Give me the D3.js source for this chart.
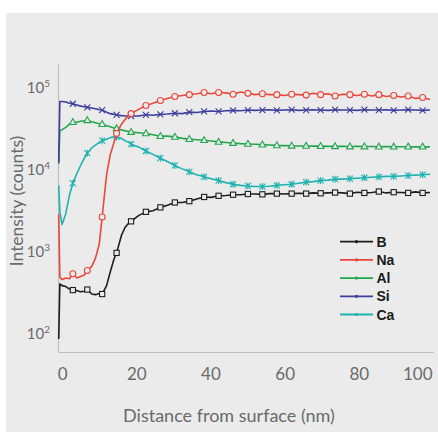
<!DOCTYPE html>
<html><head><meta charset="utf-8">
<script src="https://cdn.jsdelivr.net/npm/d3@7"></script>
<style>body{margin:0;background:#fff}</style>
</head><body>
<svg id="c" width="438" height="433"></svg>
<script>
// ---- data ----
const depth = [-0.9, -0.6, 0, 1, 2, 2.9, 4, 5, 6, 6.8, 8, 9, 10, 10.8, 12, 13, 14, 14.7, 16, 17, 18, 18.6,
  20.6, 22.6, 24.5, 26.5, 28.4, 30.4, 32.4, 34.3, 36.3, 38.3, 40.2, 42.2, 44.2, 46.1, 48.1, 50.1, 52.0, 54.0,
  56.0, 57.9, 59.9, 61.9, 63.8, 65.8, 67.7, 69.7, 71.7, 73.6, 75.6, 77.6, 79.5, 81.5, 83.5, 85.4, 87.4, 89.4,
  91.3, 93.3, 95.3, 97.2, 99.2];
const markerDepths = [2.9, 6.8, 10.8, 14.7, 18.6, 22.6, 26.5, 30.4, 34.3, 38.3, 42.2, 46.1, 50.1, 54.0, 57.9,
  61.9, 65.8, 69.7, 73.6, 77.6, 81.5, 85.4, 89.4, 93.3, 97.2];
const seriesNames = ["B", "Na", "Al", "Si", "Ca"];
const valuesB = [85, 400, 380, 370, 345, 335, 330, 320, 325, 340, 300, 295, 305, 300, 380, 560, 800, 950, 1550, 1950, 2200, 2300,
  2700, 3000, 3100, 3400, 3600, 3900, 3900, 4050, 4300, 4550, 4500, 4700, 4750, 4850, 4850, 4950, 4950, 4900,
  5000, 5000, 4950, 5000, 5050, 5000, 5100, 5050, 5100, 5150, 5100, 5000, 5200, 5100, 5150, 5300, 5100, 5200,
  5150, 5100, 5250, 5100, 5150];
const valuesNa = [2800, 480, 450, 470, 460, 530, 470, 490, 510, 580, 650, 820, 1200, 2600, 8500, 15000, 21000, 27000, 35000, 40000, 45000, 47000,
  53000, 59000, 63000, 68000, 72000, 76000, 78000, 80000, 82000, 85000, 82000, 85000, 84000, 81000, 86000, 83000, 80000, 82000,
  80000, 80000, 78000, 81000, 80000, 79000, 83000, 80000, 82000, 77000, 81000, 80000, 78000, 81000, 77000, 80000, 76000, 78000,
  75000, 77000, 72000, 74000, 70000];
const valuesAl = [11500, 29500, 30000, 32000, 35000, 37000, 37000, 38000, 38500, 39000, 37500, 36500, 35500, 35000, 33500, 32500, 31500, 31000, 30000, 29000, 28500, 28000,
  27500, 27000, 26000, 25000, 25000, 24500, 23500, 23000, 22600, 22300, 21800, 21300, 20900, 20600, 20300, 20100, 19900, 19700,
  19500, 19300, 19200, 19100, 19000, 19000, 18900, 18900, 18800, 18800, 18800, 18700, 18800, 18700, 18700, 18600, 18700, 18600,
  18600, 18600, 18500, 18600, 18500];
const valuesSi = [12000, 66000, 66000, 65000, 63000, 62000, 60000, 58000, 57000, 56000, 55000, 54000, 52500, 52000, 49000, 47000, 46000, 45500, 44500, 44000, 44000, 44000,
  44000, 45500, 45000, 46000, 46500, 47500, 47000, 49000, 48500, 50000, 50500, 50000, 51000, 51500, 51000, 52000, 51500, 52000,
  52500, 51500, 52000, 52500, 51500, 52000, 52500, 52000, 51500, 52500, 52000, 52000, 51500, 52500, 52000, 52000, 52500, 51500,
  52000, 52500, 52000, 51500, 52000];
const valuesCa = [6300, 3000, 2100, 2850, 4800, 6700, 8800, 11000, 13500, 15500, 18000, 19500, 21000, 22000, 23000, 24000, 24500, 24500, 23500, 22000, 21000, 20000,
  18500, 16500, 15000, 13500, 12300, 11000, 10000, 9200, 8500, 8000, 7600, 7200, 6800, 6500, 6300, 6200, 6100, 6100,
  6150, 6300, 6400, 6500, 6700, 6900, 7000, 7200, 7300, 7500, 7500, 7600, 7700, 7800, 7900, 8000, 8100, 8100,
  8200, 8300, 8400, 8500, 8600];
const xTicks = [0, 20, 40, 60, 80, 100];
const yTicks = [100, 1000, 10000, 100000];
const xLabel = "Distance from surface (nm)";
const yLabel = "Intensity (counts)";

// ---- style ----
const colors = {B: "#1e1e1e", Na: "#e8473a", Al: "#22a64c", Si: "#3c3f9c", Ca: "#1fb2b0"};
const markerType = {B: "square", Na: "circle", Al: "triangle", Si: "cross", Ca: "star"};
const values = {B: valuesB, Na: valuesNa, Al: valuesAl, Si: valuesSi, Ca: valuesCa};
const bg = "#ebebec";
const textCol = "#6a6a6a";

const svg = d3.select("#c");
svg.append("rect").attr("x", 6).attr("y", 13).attr("width", 432).attr("height", 419).attr("fill", bg);

const x = d3.scaleLinear().domain([-1.1, 100]).range([58, 433]);
const y = d3.scaleLog().domain([Math.pow(10, 1.772), Math.pow(10, 5.276)]).range([352, 64]);

// axes
const gx = svg.append("g").attr("transform", "translate(0,352)")
  .call(d3.axisBottom(x).tickValues(xTicks).tickSize(0).tickPadding(16).tickFormat(d3.format("d")));
gx.select(".domain").attr("stroke", "#bdbdbd").attr("stroke-width", 1.2);
gx.selectAll("text").attr("font-family", "Lato, sans-serif").attr("font-size", 17).attr("fill", textCol);
gx.selectAll(".tick").filter(d => d === 100).select("text").attr("text-anchor", "end").attr("x", -1);

const gy = svg.append("g").attr("transform", "translate(58,0)")
  .call(d3.axisLeft(y).tickValues(yTicks).tickSize(0).tickPadding(8).tickFormat(() => "10"));
gy.select(".domain").attr("stroke", "#bdbdbd").attr("stroke-width", 1.2);
gy.selectAll("text").attr("font-family", "Lato, sans-serif").attr("font-size", 15).attr("fill", textCol)
  .attr("dy", "0.36em")
  .each(function(d) {
    d3.select(this).append("tspan").attr("dy", -6).attr("font-size", 10).text(Math.round(Math.log10(d)));
  });

// titles
svg.append("text").attr("x", 229).attr("y", 422).attr("text-anchor", "middle")
  .attr("font-family", "Lato, sans-serif").attr("font-size", 18).attr("fill", textCol).text(xLabel);
svg.append("text").attr("transform", "translate(23,201) rotate(-90)").attr("text-anchor", "middle")
  .attr("font-family", "Lato, sans-serif").attr("font-size", 17.5).attr("fill", textCol).text(yLabel);

// lines
const line = d3.line().x(d => x(d[0])).y(d => y(d[1]));
const isMarker = dd => markerDepths.some(m => Math.abs(m - dd) < 0.01);

function drawMarker(g, type, cx, cy, col) {
  if (type === "square") {
    g.append("rect").attr("x", cx - 2.6).attr("y", cy - 2.6).attr("width", 5.2).attr("height", 5.2)
      .attr("fill", bg).attr("stroke", col).attr("stroke-width", 1.1);
  } else if (type === "circle") {
    g.append("circle").attr("cx", cx).attr("cy", cy).attr("r", 3)
      .attr("fill", bg).attr("stroke", col).attr("stroke-width", 1.1);
  } else if (type === "triangle") {
    g.append("path").attr("d", `M${cx},${cy - 3.6}L${cx + 3.3},${cy + 2.3}L${cx - 3.3},${cy + 2.3}Z`)
      .attr("fill", bg).attr("stroke", col).attr("stroke-width", 1.1);
  } else if (type === "cross") {
    g.append("path").attr("d", `M${cx - 3},${cy - 3}L${cx + 3},${cy + 3}M${cx - 3},${cy + 3}L${cx + 3},${cy - 3}`)
      .attr("stroke", col).attr("stroke-width", 1.1);
  } else if (type === "star") {
    g.append("path").attr("d", `M${cx - 3},${cy - 3}L${cx + 3},${cy + 3}M${cx - 3},${cy + 3}L${cx + 3},${cy - 3}M${cx},${cy - 3.5}L${cx},${cy + 3.5}`)
      .attr("stroke", col).attr("stroke-width", 1.1);
  }
}

const order = ["B", "Ca", "Al", "Si", "Na"];
order.forEach(name => {
  const data = depth.map((d, i) => [d, values[name][i]]);
  const g = svg.append("g");
  g.append("path").datum(data).attr("d", line).attr("fill", "none")
    .attr("stroke", colors[name]).attr("stroke-width", 1.6).attr("stroke-linejoin", "round");
  data.filter(d => isMarker(d[0])).forEach(d => drawMarker(g, markerType[name], x(d[0]), y(d[1]), colors[name]));
});

// legend
const lg = svg.append("g");
seriesNames.forEach((name, i) => {
  const ly = 241.7 + i * 18.2;
  lg.append("line").attr("x1", 340).attr("x2", 373).attr("y1", ly).attr("y2", ly)
    .attr("stroke", colors[name]).attr("stroke-width", 1.8);
  lg.append("circle").attr("cx", 356.5).attr("cy", ly).attr("r", 1.6).attr("fill", colors[name]);
  lg.append("text").attr("x", 376.5).attr("y", ly).attr("dy", "0.36em")
    .attr("font-family", "Liberation Sans, Arial, sans-serif").attr("font-weight", "bold")
    .attr("font-size", 14).attr("fill", "#1a1a1a").text(name);
});
</script>
</body></html>
